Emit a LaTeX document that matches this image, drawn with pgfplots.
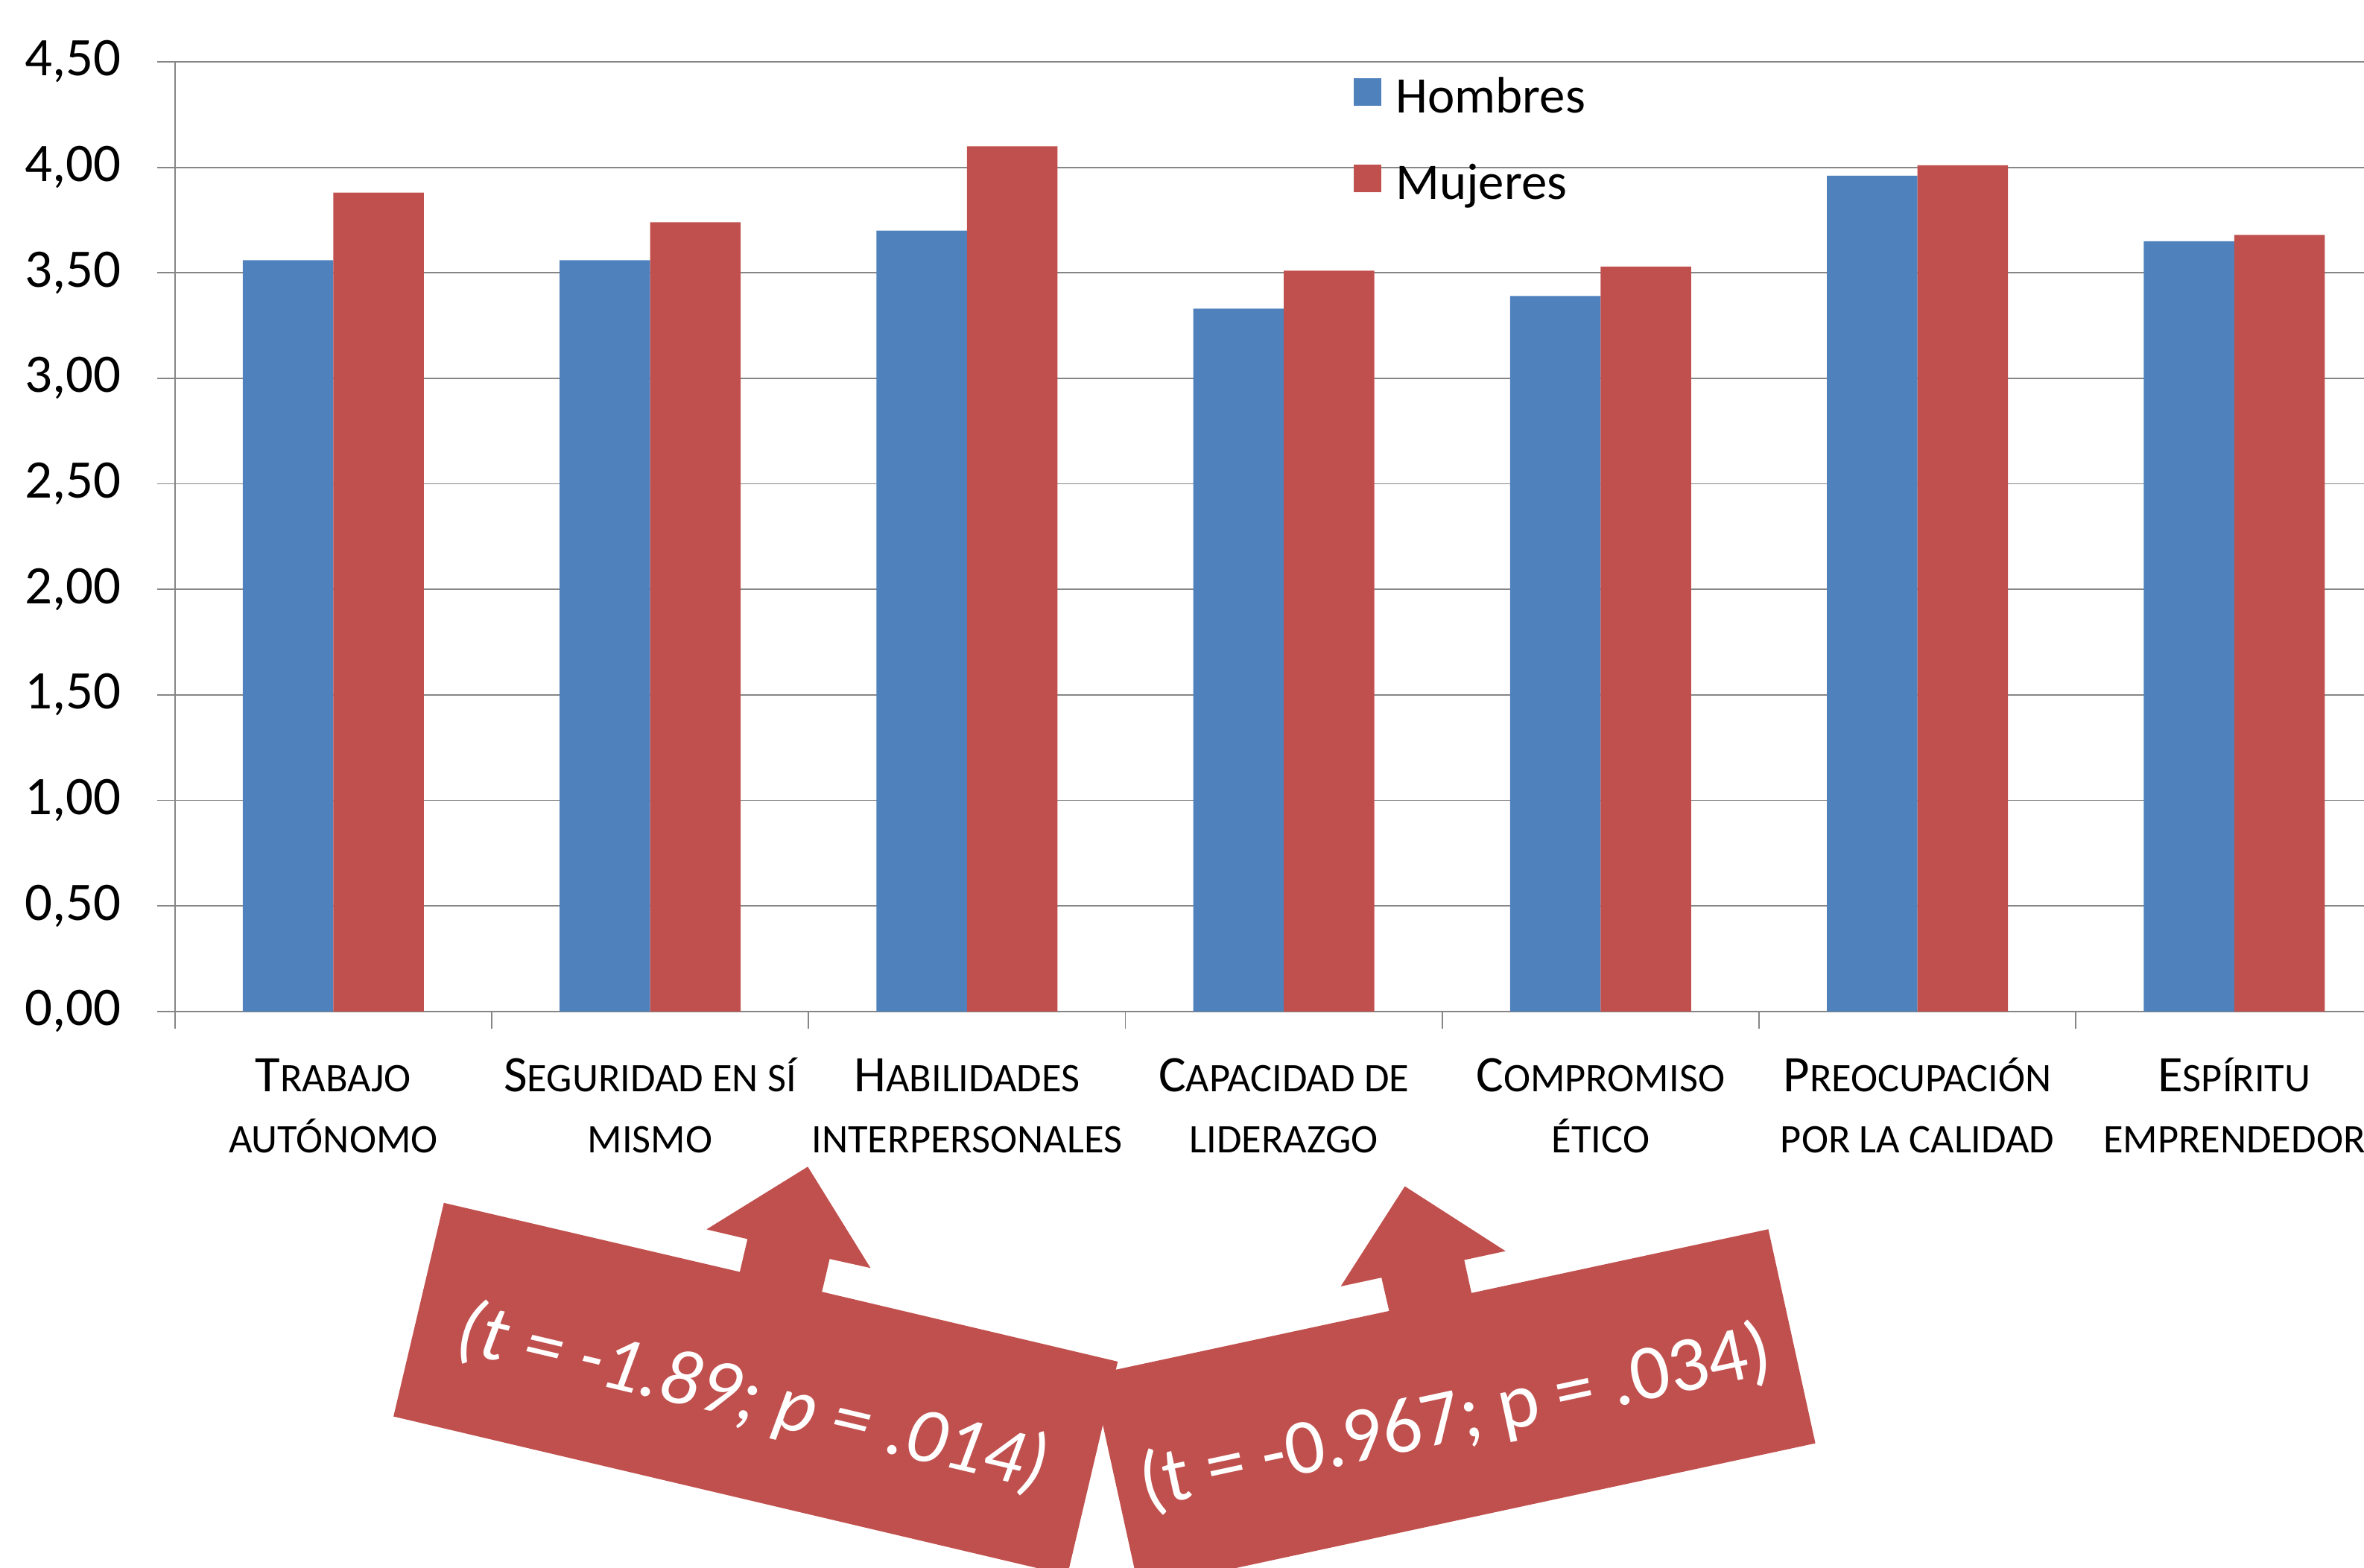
\documentclass[border=0pt]{standalone}
\usepackage{fontspec}
\setmainfont{Carlito}
\usepackage{pgfplots}
\pgfplotsset{compat=1.18}
\definecolor{hblue}{HTML}{4F81BD}
\definecolor{mred}{HTML}{C0504D}
\definecolor{gridgray}{HTML}{868686}
% fake small caps as in the Word chart
\newcommand\sm[1]{{\fontsize{15.3pt}{18pt}\selectfont #1}}
\newcommand\lb{\rule{0pt}{17pt}}

\begin{document}
\begin{tikzpicture}
\begin{axis}[
  at={(23.2mm,73.8mm)}, anchor=south west,
  scale only axis, width=294.2mm, height=126mm,
  xmin=-0.5, xmax=6.5, ymin=0, ymax=4.5,
  axis lines=left,
  axis line style={-, draw=gridgray, line width=0.5pt},
  tick align=outside, major tick length=2.3mm,
  tick style={draw=gridgray, line width=0.5pt},
  xtick={-0.5,0.5,1.5,2.5,3.5,4.5,5.5,6.5},
  xticklabels={{},{},{},{},{},{},{},{}},
  extra x ticks={0,1,2,3,4,5,6},
  extra x tick style={major tick length=0pt, tick style={draw=none}},
  extra x tick labels={
    {\lb T\sm{RABAJO}\\\sm{AUTÓNOMO}},
    {\lb S\sm{EGURIDAD EN SÍ}\\\sm{MISMO}},
    {\lb H\sm{ABILIDADES}\\\sm{INTERPERSONALES}},
    {\lb C\sm{APACIDAD DE}\\\sm{LIDERAZGO}},
    {\lb C\sm{OMPROMISO}\\\sm{ÉTICO}},
    {\lb P\sm{REOCUPACIÓN}\\\sm{POR LA CALIDAD}},
    {\lb E\sm{SPÍRITU}\\\sm{EMPRENDEDOR}}},
  x tick label style={font=\fontsize{19.35pt}{22.9pt}\selectfont,
    align=center, anchor=north, inner sep=0pt, yshift=-4.62mm},
  ytick={0,0.5,1,1.5,2,2.5,3,3.5,4,4.5},
  ymajorgrids, grid style={draw=gridgray, line width=0.5pt},
  y tick label style={font=\fontsize{20.5pt}{24pt}\selectfont,
    inner sep=0pt, xshift=-4.76mm,
    /pgf/number format/fixed, /pgf/number format/fixed zerofill,
    /pgf/number format/precision=2, /pgf/number format/use comma,
    /pgf/number format/assume math mode=true},
  legend style={at={(0.5312,0.983)}, anchor=north west, draw=none, fill=none,
    inner sep=0pt, font=\fontsize{19.35pt}{22.9pt}\selectfont,
    row sep=6.2mm, column sep=1.96mm,
    nodes={inner sep=0pt, text height=0.7em, text depth=0.2em}},
  legend cell align=left,
  legend image code/.code={\fill[#1] (0mm,0mm) rectangle (3.66mm,3.66mm);},
]
\addplot[ybar, bar width=0.2857, bar shift=-0.14285, fill=hblue, draw=none]
  coordinates {(0,3.56) (1,3.56) (2,3.70) (3,3.33) (4,3.39) (5,3.96) (6,3.65)};
\addlegendentry{Hombres}
\addplot[ybar, bar width=0.2857, bar shift=0.14285, fill=mred, draw=none]
  coordinates {(0,3.88) (1,3.74) (2,4.10) (3,3.51) (4,3.53) (5,4.01) (6,3.68)};
\addlegendentry{Mujeres}
\end{axis}

% callouts (coordinates in reference pixels, y downwards)
\begin{scope}[x=0.2mm, y=-0.2mm, shift={(0mm,208mm)}]
\fill[mred] (294.4,798.0) -- (490.7,843.8) -- (495.8,822.0) -- (468.6,815.6)
  -- (535.8,774.0) -- (577.4,841.2) -- (550.3,835.2) -- (545.2,857.0)
  -- (741.4,903.3) -- (708.0,1045.0) -- (261.0,939.7) -- cycle;
\fill[mred] (724.2,912.1) -- (921.4,869.7) -- (916.3,847.6) -- (889.3,853.4)
  -- (931.8,787.0) -- (998.6,830.0) -- (971.2,835.9) -- (976.0,857.8)
  -- (1172.9,815.5) -- (1204.1,957.5) -- (755.4,1054.1) -- cycle;
\node[text=white, rotate=-13.3, inner sep=0pt,
  font=\itshape\fontsize{29.6pt}{34pt}\selectfont] at (499.2,927.8)
  {(t = -1.89; p = .014)};
\node[text=white, rotate=12.1, inner sep=0pt,
  font=\fontsize{29.6pt}{34pt}\selectfont] at (965.5,940.9)
  {(t = -0.967; p = .034)};
\end{scope}

\pgfresetboundingbox
\path[use as bounding box] (0,0) rectangle (313.6mm,208mm);
\end{tikzpicture}
\end{document}
